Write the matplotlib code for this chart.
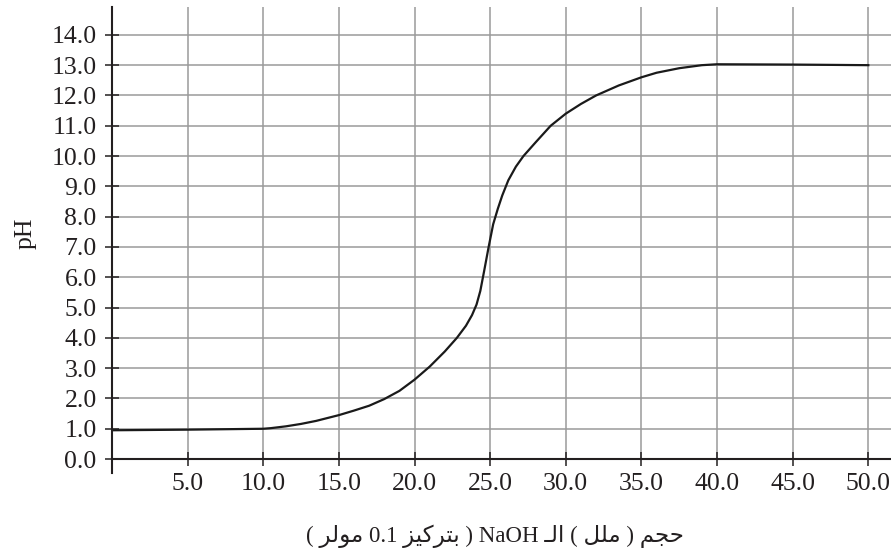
import numpy as np
import matplotlib
matplotlib.use("Agg")
import matplotlib.pyplot as plt

# titration curve
volume = [0, 5, 10, 10.5, 11.5, 12.5, 13.5, 15, 16, 17, 18, 19, 20, 21, 22,
          22.8, 23.4, 23.8, 24.1, 24.35, 24.6, 24.9, 25.2, 25.5, 25.8, 26.2,
          26.7, 27.2, 28, 29, 30, 31, 32, 33.5, 35, 36, 37.5, 39, 40, 45, 50]
ph = [0.95, 0.97, 1.0, 1.02, 1.08, 1.16, 1.26, 1.45, 1.6, 1.76, 1.98, 2.25,
      2.62, 3.05, 3.55, 4.0, 4.4, 4.75, 5.1, 5.55, 6.2, 7.0, 7.75, 8.25, 8.7,
      9.2, 9.65, 10.0, 10.45, 11.0, 11.4, 11.72, 12.0, 12.33, 12.6, 12.75,
      12.9, 13.0, 13.03, 13.02, 13.0]

xticks = [5, 10, 15, 20, 25, 30, 35, 40, 45, 50]
yticks = list(range(0, 15))

# arabic label written in visual order with presentation forms,
# since matplotlib does no shaping / bidi by itself
# logical: حجم ( ملل ) الـ NaOH ( بتركيز 0.1 مولر )
xlabel = ("( \uFEAE\uFEDF\uFEEE\uFEE3 0.1 \uFEB0\uFEF4\uFEDB\uFEAE\uFE98\uFE91 ) "
          "NaOH \u0640\uFEDF\uFE8D ( \uFEDE\uFEE0\uFEE3 ) \uFEE2\uFEA0\uFEA3")

ink = "#231f20"
grid_col = "#9a9a9a"
fonts = ["Liberation Serif", "DejaVu Sans"]
plt.rcParams["font.family"] = fonts

fig = plt.figure(figsize=(8.91, 5.56), dpi=100)
ax = fig.add_axes([0.1257, 0.1493, 0.8743, 0.8381])

ax.set_xlim(0, 51.5)
ax.set_ylim(-0.46, 14.92)

# grid: horizontal lines across, vertical lines only above pH 0
for t in yticks[1:]:
    ax.axhline(t, color=grid_col, lw=1.1, zorder=1)
ax.vlines(xticks, 0, 14.92, color=grid_col, lw=1.1, zorder=1)

ax.plot(volume, ph, color="#1a1a1a", lw=1.6, zorder=3,
        solid_joinstyle="round")

for s in ["top", "right"]:
    ax.spines[s].set_visible(False)
ax.spines["bottom"].set_position(("data", 0))
for s in ["left", "bottom"]:
    ax.spines[s].set_color(ink)
    ax.spines[s].set_linewidth(1.5)
    ax.spines[s].set_zorder(4)

ax.set_xticks(xticks)
ax.set_xticklabels(["%.1f" % v for v in xticks])
ax.set_yticks(yticks)
ax.set_yticklabels(["%.1f" % v for v in yticks])
ax.tick_params(direction="inout", length=10, width=1.1, color=ink,
               labelcolor=ink, labelsize=18.5)
ax.tick_params(axis="y", pad=6)
ax.tick_params(axis="x", pad=5)

ax.set_ylabel("pH", fontsize=18.5, color=ink)
ax.yaxis.set_label_coords(-0.097, 0.515)

fig.text(0.556, 0.036, xlabel, fontsize=16.5, color=ink, ha="center",
         va="center", family=fonts)

fig.savefig("out.png", dpi=100)
